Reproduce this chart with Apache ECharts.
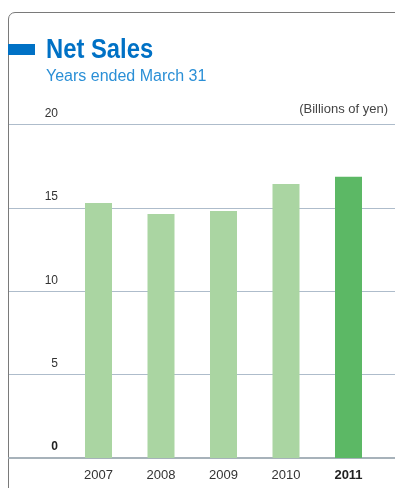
<!DOCTYPE html>
<html>
<head>
<meta charset="utf-8">
<title>Net Sales</title>
<script src="https://cdn.jsdelivr.net/npm/echarts@6/dist/echarts.min.js"></script>
<style>
  html, body { margin: 0; padding: 0; background: #ffffff; }
  #chart { width: 395px; height: 488px; }
</style>
</head>
<body>
<div id="chart"></div>
<script>
// Fiscal years (ended March 31) and net sales in billions of yen
var years = ['2007', '2008', '2009', '2010', '2011'];
var netSales = [15.29, 14.63, 14.81, 16.43, 16.87];
var yTicks = [0, 5, 10, 15, 20];
var currentYear = '2011';

var LIGHT_GREEN = '#aad5a2';
var DARK_GREEN = '#5cb865';
var TEXT = '#333333';
var FONT = '"Liberation Sans", Arial, Helvetica, sans-serif';
var FRAME = '#7a7a7a';

var chart = echarts.init(document.getElementById('chart'), null, { renderer: 'canvas' });

var gridTop = 124.5;
var gridBottom = 30;

var option = {
  animation: false,
  backgroundColor: '#ffffff',
  textStyle: { fontFamily: FONT },
  graphic: [
    // panel frame: left edge, rounded corner, top edge
    {
      type: 'line', z: 0,
      shape: { x1: 8.5, y1: 19, x2: 8.5, y2: 488 },
      style: { stroke: FRAME, lineWidth: 1 }
    },
    {
      type: 'arc', z: 0,
      shape: { cx: 15, cy: 19, r: 6.5, startAngle: Math.PI, endAngle: Math.PI * 1.5, clockwise: true },
      style: { fill: 'none', stroke: FRAME, lineWidth: 1 }
    },
    {
      type: 'line', z: 0,
      shape: { x1: 15, y1: 12.5, x2: 395, y2: 12.5 },
      style: { stroke: FRAME, lineWidth: 1 }
    },
    // blue marker next to the heading
    {
      type: 'rect', z: 5,
      shape: { x: 8, y: 44, width: 27, height: 11 },
      style: { fill: '#0071c5' }
    },
    {
      type: 'text', z: 5,
      x: 46, y: 50.5, scaleX: 0.85,
      style: {
        text: 'Net Sales', fill: '#0071c5',
        font: 'bold 28px ' + FONT,
        verticalAlign: 'middle'
      }
    },
    {
      type: 'text', z: 5,
      x: 46, y: 77,
      style: {
        text: 'Years ended March 31', fill: '#2a8fd6',
        font: '16px ' + FONT,
        verticalAlign: 'middle'
      }
    },
    {
      type: 'text', z: 5,
      x: 388, y: 109,
      style: {
        text: '(Billions of yen)', fill: '#444444',
        font: '13px ' + FONT,
        align: 'right', verticalAlign: 'middle'
      }
    }
  ],
  grid: [
    // bar plotting area
    { left: 67.25, width: 312.5, top: gridTop, bottom: gridBottom },
    // full-width area carrying the horizontal rules and value labels
    { left: 9, right: 0, top: gridTop, bottom: gridBottom }
  ],
  xAxis: [
    {
      type: 'category', gridIndex: 0, data: years,
      axisLine: { show: false },
      axisTick: { show: false },
      axisLabel: {
        interval: 0,
        margin: 11,
        fontSize: 13,
        color: TEXT,
        fontFamily: FONT,
        formatter: function (v) {
          return v === currentYear ? '{b|' + v + '}' : '{n|' + v + '}';
        },
        rich: {
          n: { fontSize: 13, color: TEXT, fontFamily: FONT },
          b: { fontSize: 13, color: '#222222', fontWeight: 'bold', fontFamily: FONT }
        }
      }
    },
    {
      type: 'category', gridIndex: 1, data: [''],
      axisLine: { show: true, lineStyle: { color: '#a7b2ba', width: 2 } },
      axisTick: { show: false },
      axisLabel: { show: false }
    }
  ],
  yAxis: [
    {
      type: 'value', gridIndex: 0,
      min: yTicks[0], max: yTicks[yTicks.length - 1], interval: 5,
      show: false
    },
    {
      type: 'value', gridIndex: 1,
      min: yTicks[0], max: yTicks[yTicks.length - 1], interval: 5,
      axisLine: { show: false },
      axisTick: { show: false },
      splitLine: { show: true, lineStyle: { color: '#aebccb', width: 1 } },
      axisLabel: {
        inside: true,
        margin: 49,
        align: 'right',
        verticalAlign: 'bottom',
        padding: [0, 0, 5, 0],
        fontSize: 12,
        color: TEXT,
        fontFamily: FONT,
        formatter: function (v) {
          return v === 0 ? '{z|0}' : String(v);
        },
        rich: {
          z: { fontSize: 12, fontWeight: 'bold', color: '#222222', fontFamily: FONT }
        }
      }
    }
  ],
  series: [
    {
      type: 'bar',
      xAxisIndex: 0, yAxisIndex: 0,
      barWidth: 27,
      z: 3,
      data: netSales.map(function (v, i) {
        return {
          value: v,
          itemStyle: { color: years[i] === currentYear ? DARK_GREEN : LIGHT_GREEN }
        };
      })
    }
  ]
};

chart.setOption(option);
</script>
</body>
</html>
